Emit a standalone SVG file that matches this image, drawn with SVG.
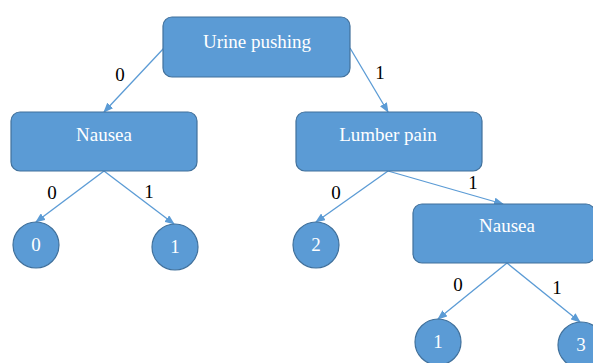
<svg xmlns="http://www.w3.org/2000/svg" width="593" height="363" viewBox="0 0 593 363">
<defs>
<marker id="arr" markerWidth="10" markerHeight="8" refX="9" refY="4" orient="auto" markerUnits="userSpaceOnUse">
<path d="M0,0 L10,4 L0,8 Z" fill="#5B9BD5"/>
</marker>
<style>
.box{fill:#5B9BD5;stroke:#41719C;stroke-width:1.2}
.nt{fill:#fff;font-family:"Liberation Serif",serif;font-size:19px;text-anchor:middle}
.lt{fill:#000;font-family:"Liberation Serif",serif;font-size:19px;text-anchor:middle}
.edge{stroke:#5B9BD5;stroke-width:1.3;fill:none;marker-end:url(#arr)}
</style>
</defs>
<rect width="593" height="363" fill="#fff"/>
<g id="connectors">
<line class="edge" x1="164" y1="48" x2="104" y2="112"/>
<line class="edge" x1="350" y1="48" x2="388" y2="112"/>
<line class="edge" x1="104" y1="171" x2="36" y2="222"/>
<line class="edge" x1="104" y1="171" x2="174" y2="224"/>
<line class="edge" x1="388" y1="171" x2="316" y2="222"/>
<line class="edge" x1="388" y1="171" x2="503" y2="204"/>
<line class="edge" x1="507" y1="263" x2="438" y2="319"/>
<line class="edge" x1="507" y1="263" x2="580" y2="322"/>
<text class="lt" x="120" y="81">0</text>
<text class="lt" x="380" y="79">1</text>
<text class="lt" x="52" y="199">0</text>
<text class="lt" x="149" y="198">1</text>
<text class="lt" x="336" y="199">0</text>
<text class="lt" x="473" y="189">1</text>
<text class="lt" x="458" y="291">0</text>
<text class="lt" x="557" y="294">1</text>
</g>
<g id="root">
<rect class="box" x="163" y="17" width="187" height="60" rx="9"/>
<text class="nt" x="257" y="48">Urine pushing</text>
</g>
<g id="nausea1">
<rect class="box" x="11" y="112" width="186" height="59" rx="9"/>
<text class="nt" x="104" y="141">Nausea</text>
</g>
<g id="lumber">
<rect class="box" x="296" y="112" width="186" height="59" rx="9"/>
<text class="nt" x="388" y="141">Lumber pain</text>
</g>
<g id="nausea2">
<rect class="box" x="413" y="204" width="182" height="59" rx="9"/>
<text class="nt" x="507" y="232">Nausea</text>
</g>
<g id="leaf0">
<circle class="box" cx="36" cy="245" r="23"/>
<text class="nt" x="36" y="251">0</text>
</g>
<g id="leaf1a">
<circle class="box" cx="175" cy="247" r="23"/>
<text class="nt" x="175" y="253">1</text>
</g>
<g id="leaf2">
<circle class="box" cx="316" cy="245" r="23"/>
<text class="nt" x="316" y="251">2</text>
</g>
<g id="leaf1b">
<circle class="box" cx="438" cy="342" r="23"/>
<text class="nt" x="438" y="348">1</text>
</g>
<g id="leaf3">
<circle class="box" cx="581" cy="345" r="23"/>
<text class="nt" x="581" y="351">3</text>
</g>
</svg>
